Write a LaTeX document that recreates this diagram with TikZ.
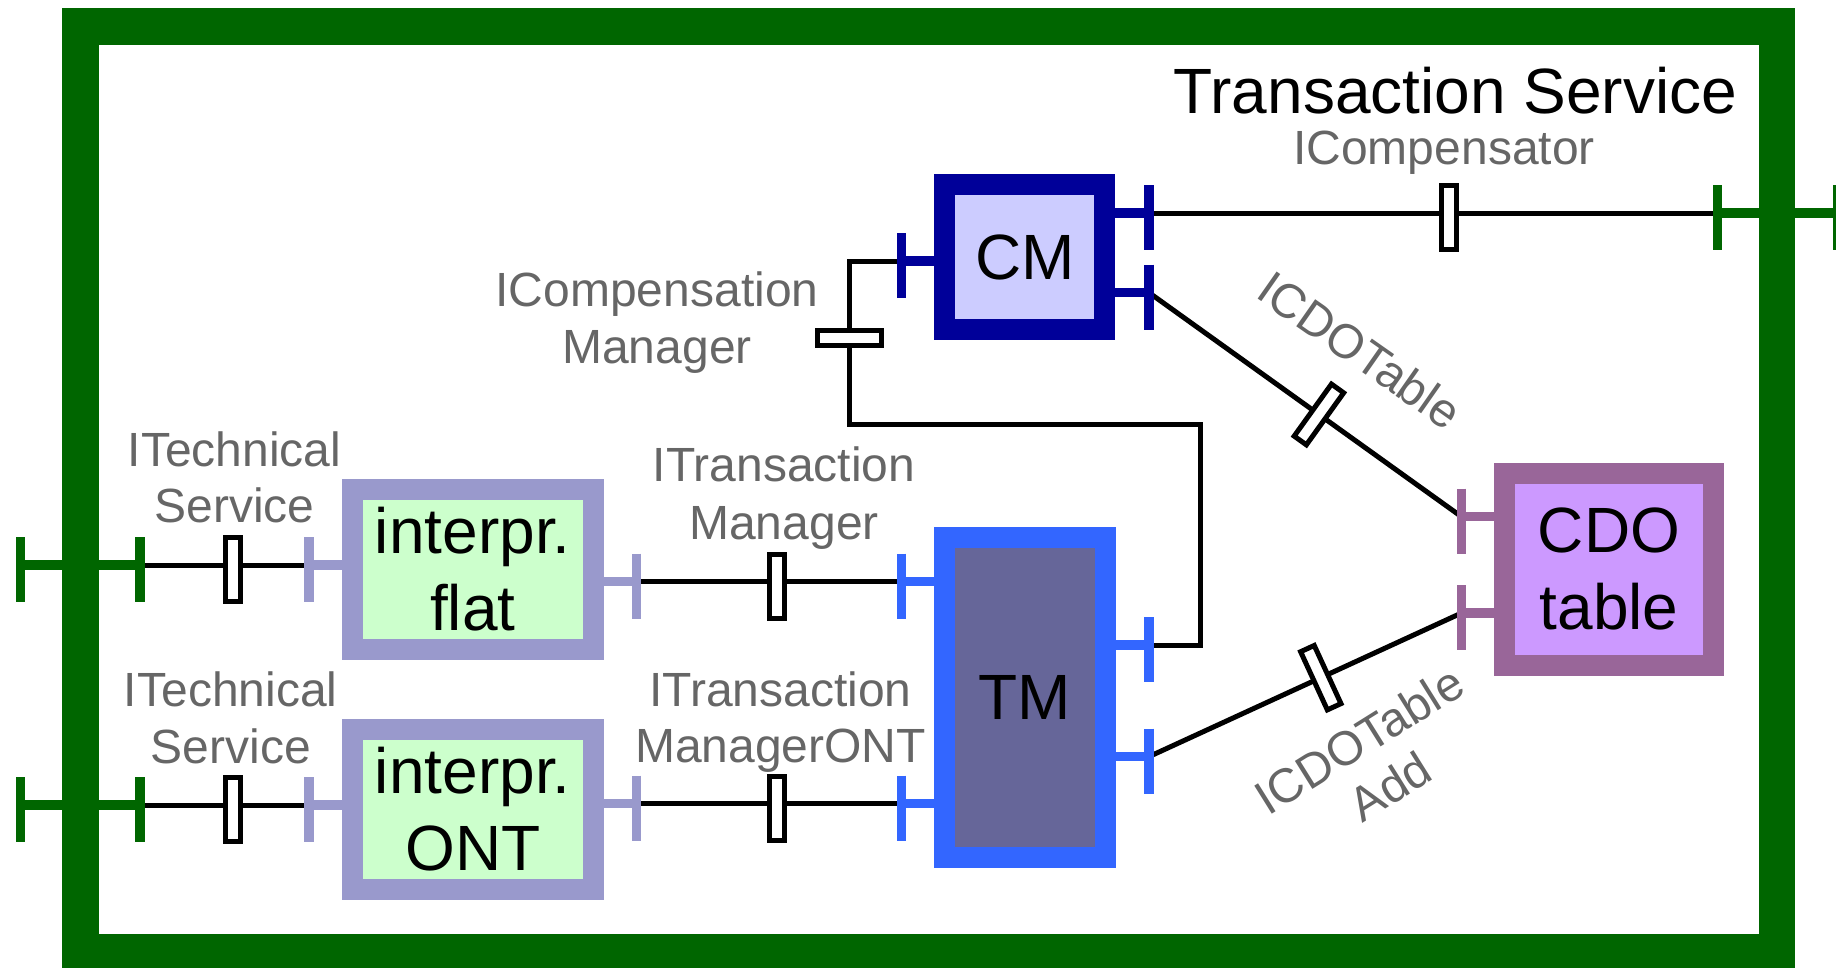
\documentclass[tikz,border=0pt]{standalone}
\usepackage{fontspec}
\setmainfont{Liberation Sans}
\usetikzlibrary{calc}
\definecolor{tsgreen}{HTML}{006600}
\definecolor{cmborder}{HTML}{000099}
\definecolor{cmfill}{HTML}{CCCCFF}
\definecolor{tmborder}{HTML}{3366FF}
\definecolor{tmfill}{HTML}{666699}
\definecolor{ipborder}{HTML}{9999CC}
\definecolor{ipfill}{HTML}{CCFFCC}
\definecolor{cdoborder}{HTML}{996699}
\definecolor{cdofill}{HTML}{CC99FF}
\definecolor{lblgray}{HTML}{666666}
\newcommand\tsport[3]{%
  \draw[portline,#1] (#2) -- (#3);
  \draw[portline,#1] ($(#2)+(0,-28)$) -- ($(#2)+(0,37)$);}
\newcommand\tstick[2]{%
  \draw[portline,#1] ($(#2)+(0,-28)$) -- ($(#2)+(0,37)$);}
\begin{document}
\begin{tikzpicture}[x=1pt,y=-1pt,
  tsframe/.style={draw=tsgreen,line width=36.5pt,inner sep=0pt,outer sep=0pt},
  tsbox/.style={line width=21pt,inner sep=0pt,outer sep=10.5pt,align=center,
    font=\fontsize{64pt}{76.8pt}\selectfont},
  conn/.style={draw=black,line width=5pt},
  sock/.style={draw=black,fill=white,line width=5pt,minimum width=15pt,
    minimum height=64pt,inner sep=0pt,outer sep=0pt},
  portline/.style={line width=9.5pt},
  lbl/.style={text=lblgray,anchor=base,inner sep=0pt,
    font=\fontsize{48pt}{57pt}\selectfont},
  title/.style={text=black,anchor=base,inner sep=0pt,
    font=\fontsize{64pt}{76.8pt}\selectfont}]
\useasboundingbox (0,0) rectangle (1836,967);
\clip (0,0) rectangle (1836,967);
\fill[white] (0,0) rectangle (1836,967);
% service frame
\node[tsframe,minimum width=1696.4pt,minimum height=925.5pt] (svc) at (928.9,489) {};
% components
\node[tsbox,draw=cmborder,fill=cmfill,minimum width=160pt,minimum height=144.7pt] (cm) at (1024.8,257.2) {CM};
\node[tsbox,draw=tmborder,fill=tmfill,minimum width=161pt,minimum height=320.6pt] (tm) at (1025,697.5) {TM};
\node[tsbox,draw=ipborder,fill=ipfill,minimum width=240.6pt,minimum height=160pt] (flat) at (472.8,569.5) {interpr.\\flat};
\node[tsbox,draw=ipborder,fill=ipfill,minimum width=240.6pt,minimum height=160pt] (ont) at (472.8,809.5) {interpr.\\ONT};
\node[tsbox,draw=cdoborder,fill=cdofill,minimum width=208.1pt,minimum height=191.9pt] (cdo) at (1609,569.2) {CDO\\table};
% port points
\coordinate (cmL) at (901.3,261);
\coordinate (cmR1) at (1148.8,213);
\coordinate (cmR2) at (1148.8,292.5);
\coordinate (tmL1) at (901.3,581.5);
\coordinate (tmL2) at (901.3,803.5);
\coordinate (tmR1) at (1148.8,645);
\coordinate (tmR2) at (1148.8,756.7);
\coordinate (flatL) at (309,565);
\coordinate (flatR) at (636.6,581.5);
\coordinate (ontL) at (309,805);
\coordinate (ontR) at (636.6,803.5);
\coordinate (cdoL1) at (1461.5,516.7);
\coordinate (cdoL2) at (1461.5,613);
\coordinate (gL1in) at (140,565);
\coordinate (gL1out) at (20.5,565);
\coordinate (gL2in) at (140,805);
\coordinate (gL2out) at (20.5,805);
\coordinate (gRin) at (1717.3,213);
\coordinate (gRout) at (1838,213);
\coordinate (bendA) at (1200.5,424);
\coordinate (bendB) at (849.5,424);
\coordinate (bendC) at (849.5,261);
% connectors with sockets
\draw[conn] (cmR1) -- node[sock,pos=0.5286,yshift=-4.5pt] (sCompensator) {} (gRin);
\draw[conn] (cmR2) -- node[sock,sloped,pos=0.544] (sCDO) {} (cdoL1);
\draw[conn] (tmR2) -- node[sock,sloped,pos=0.55] (sCDOAdd) {} (cdoL2);
\draw[conn] (tmR1) -| (bendA) -- (bendB) -- node[sock,sloped,pos=0.529] (sCompMgr) {} (bendC) -- (cmL);
\draw[conn] (flatR) -- node[sock,pos=0.529,yshift=-4.5pt] (sTM) {} (tmL1);
\draw[conn] (ontR) -- node[sock,pos=0.529,yshift=-4.5pt] (sTMONT) {} (tmL2);
\draw[conn] (gL1in) -- node[sock,pos=0.5485,yshift=-4.5pt] (sTech1) {} (flatL);
\draw[conn] (gL2in) -- node[sock,pos=0.5485,yshift=-4.5pt] (sTech2) {} (ontL);
% ports
\tsport{cmborder}{cmL}{cmL -| cm.west}
\tsport{cmborder}{cmR1}{cmR1 -| cm.east}
\tsport{cmborder}{cmR2}{cmR2 -| cm.east}
\tsport{tmborder}{tmL1}{tmL1 -| tm.west}
\tsport{tmborder}{tmL2}{tmL2 -| tm.west}
\tsport{tmborder}{tmR1}{tmR1 -| tm.east}
\tsport{tmborder}{tmR2}{tmR2 -| tm.east}
\tsport{ipborder}{flatL}{flatL -| flat.west}
\tsport{ipborder}{flatR}{flatR -| flat.east}
\tsport{ipborder}{ontL}{ontL -| ont.west}
\tsport{ipborder}{ontR}{ontR -| ont.east}
\tsport{cdoborder}{cdoL1}{cdoL1 -| cdo.west}
\tsport{cdoborder}{cdoL2}{cdoL2 -| cdo.west}
\draw[portline,tsgreen] (gL1out) -- (gL1in);
\tstick{tsgreen}{gL1out}\tstick{tsgreen}{gL1in}
\draw[portline,tsgreen] (gL2out) -- (gL2in);
\tstick{tsgreen}{gL2out}\tstick{tsgreen}{gL2in}
\draw[portline,tsgreen] (gRin) -- (gRout);
\tstick{tsgreen}{gRin}\tstick{tsgreen}{gRout}
% labels
\node[title] (ttl) at (1455.5,113.6) {Transaction Service};
\node[lbl] (lComp) at (1444,164) {ICompensator};
\node[lbl] (lCM1) at (657,306) {ICompensation};
\node[lbl] (lCM2) at (657,363.3) {Manager};
\node[lbl] (lTM1) at (784,481.7) {ITransaction};
\node[lbl] (lTM2) at (784,539.3) {Manager};
\node[lbl] (lTO1) at (780.5,706) {ITransaction};
\node[lbl] (lTO2) at (780.5,762.7) {ManagerONT};
\node[lbl] (lTS1) at (234.5,466) {ITechnical};
\node[lbl] (lTS2) at (234.5,522.7) {Service};
\node[lbl] (lTS3) at (230.7,706) {ITechnical};
\node[lbl] (lTS4) at (230.7,763.3) {Service};
\node[lbl,anchor=center,rotate=-35] (lCDO) at (1360,350) {ICDOTable};
\node[lbl,anchor=center,rotate=32] (lAdd1) at (1359,740) {ICDOTable};
\node[lbl,anchor=center,rotate=32] (lAdd2) at (1390,786.7) {Add};
\end{tikzpicture}
\end{document}
